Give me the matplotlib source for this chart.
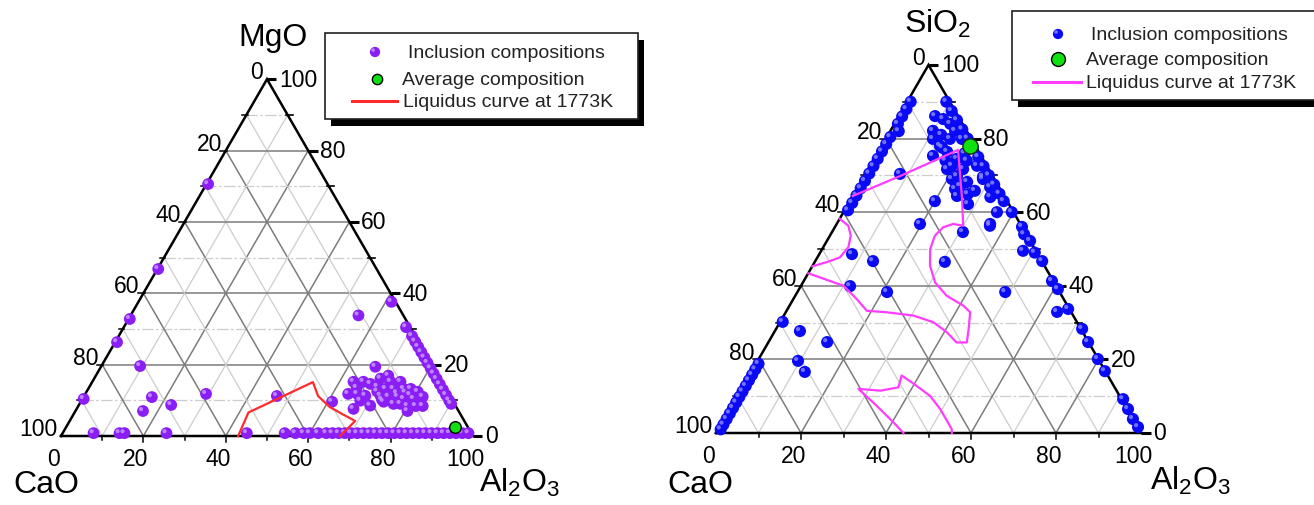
"""Two ternary diagrams: CaO-MgO-Al2O3 and CaO-SiO2-Al2O3 inclusions with liquidus at 1773K."""
import numpy as np
import matplotlib.pyplot as plt
from matplotlib.patches import Rectangle
from matplotlib.transforms import ScaledTranslation

plt.rcParams['font.family'] = ['Liberation Sans', 'DejaVu Sans']
plt.rcParams['mathtext.fontset'] = 'custom'
plt.rcParams['mathtext.rm'] = 'Liberation Sans'
plt.rcParams['mathtext.it'] = 'Liberation Sans:italic'

W, H = 1314, 506
SQ = np.sqrt(3) / 2

# ---- left diagram: (Al2O3, MgO) wt%, CaO = remainder ----
L_INC_AL2O3 = [
    0.4, 0.2, 0.3, 0.45, 0.3,
    9.4, 16.6, 16.4, 22.4, 29.3, 46.8, 55.3,
    66.6, 63.4, 65.8, 67.8, 69.5, 71.0, 72.4, 74.8, 69.9, 72.2, 74.1, 76.6,
    78.3, 80.4, 63.8, 66.0, 68.2, 71.9, 74.0, 76.2, 78.0, 80.4, 82.3, 67.7,
    73.5, 76.2, 77.9, 79.9, 81.9, 83.6, 61.0, 67.2, 80.6, 70.5, 75.5, 72.8,
    77.5, 79.0, 65.0, 70.8,
    61.4, 68.5, 71.2, 72.7, 74.2, 75.7, 77.2, 78.7, 80.2, 81.7, 83.2, 84.7,
    86.2, 87.7, 89.2, 90.2,
    7.5, 13.8, 15.0, 25.2, 44.7, 53.9, 56.5, 58.5, 60.0, 62.0, 64.0, 65.5,
    67.0, 68.5, 70.0, 71.5, 73.0, 74.5, 76.0, 77.5, 79.0, 80.5, 82.0, 83.5,
    85.0, 86.5, 88.0, 89.5, 91.0, 92.5, 94.0, 95.5, 97.0, 98.5,
]
L_INC_MGO = [
    70.6, 46.8, 32.8, 26.3, 10.4,
    19.6, 10.9, 7.0, 8.7, 11.8, 11.2, 33.8,
    19.4, 15.2, 15.2, 14.6, 16.1, 16.9, 15.2, 15.2, 13.8, 13.2, 13.2, 13.2,
    13.2, 12.4, 11.8, 11.8, 11.3, 11.3, 11.0, 11.0, 10.4, 10.4, 11.0, 9.9,
    9.6, 9.0, 9.0, 8.4, 8.4, 8.4, 9.6, 7.6, 7.0, 12.5, 12.0, 10.2,
    12.2, 11.5, 13.5, 8.5,
    37.6, 30.5, 28.0, 26.5, 25.0, 23.5, 22.0, 20.5, 19.0, 17.5, 16.0, 14.5,
    13.0, 11.5, 10.0, 9.0,
    0.8, 0.8, 0.8, 0.8, 0.8, 0.8, 0.8, 0.8, 0.8, 0.8, 0.8, 0.8,
    0.8, 0.8, 0.8, 0.8, 0.8, 0.8, 0.8, 0.8, 0.8, 0.8, 0.8, 0.8,
    0.8, 0.8, 0.8, 0.8, 0.8, 0.8, 0.8, 0.8, 0.8, 0.8,
]
L_AVG_AL2O3, L_AVG_MGO = 94.5, 2.5
L_LIQ_AL2O3 = [43.0, 42.2, 53.6, 56.8, 61.2, 65.1, 69.3, 67.7]
L_LIQ_MGO = [0.0, 6.6, 15.1, 11.2, 8.1, 6.2, 4.2, 0.0]

# ---- right diagram: (Al2O3, SiO2) wt%, CaO = remainder ----
R_INC_AL2O3 = [
    0.8, 0.8, 0.8, 0.8, 2.0, 0.8, 0.8, 0.8, 0.8, 0.8, 0.8, 0.8, 0.8, 0.8,
    0.8, 0.8,
    0.6, 0.6, 0.6, 0.6, 0.6, 0.6, 0.6, 0.6, 0.6, 0.6, 0.6, 0.6, 0.6, 0.6,
    8.5, 10.8, 13.1, 15.2, 17.9, 10.0, 11.1, 13.4, 13.7, 16.2, 19.2, 21.8,
    8.1, 20.0, 19.6, 24.5, 26.8, 28.2, 30.8, 25.1, 28.0, 31.1, 36.1, 36.1,
    15.1, 19.4, 22.3, 25.0, 23.9, 28.0, 18.5, 21.0, 23.1, 12.5, 14.5, 17.0,
    20.5, 22.0,
    9.2, 11.7, 14.2, 16.7, 19.2, 21.7, 24.2, 26.7, 29.2, 31.7, 34.2, 36.2,
    28.3, 32.5, 39.6, 36.3, 44.0, 45.5, 47.5, 47.8, 50.5, 53.4, 58.4, 60.9,
    48.9, 63.8, 66.0, 72.0, 75.2, 79.8, 83.1, 91.2, 93.7, 96.2, 98.5,
    30.6, 7.7, 13.6, 11.6, 21.1, 5.9, 13.8, 9.5, 12.6,
]
R_INC_SIO2 = [
    90.0, 88.0, 86.0, 84.0, 82.0, 80.4, 78.5, 76.5, 74.5, 72.5, 70.5, 68.5,
    66.5, 64.5, 62.5, 60.5,
    30.2, 18.8, 17.3, 15.8, 14.3, 12.8, 11.3, 9.8, 8.3, 6.8, 5.3, 3.8, 2.3, 1.0,
    86.1, 85.3, 84.0, 82.1, 79.9, 82.1, 79.9, 75.3, 78.0, 76.4, 72.6, 69.8,
    70.4, 63.0, 56.8, 64.4, 64.9, 62.2, 54.6, 72.6, 69.6, 66.8, 60.0, 56.8,
    79.9, 74.5, 71.7, 68.2, 67.1, 65.8, 71.7, 69.0, 66.3, 81.0, 77.5, 74.0,
    76.0, 74.0,
    90.0, 87.5, 85.0, 82.5, 80.0, 77.5, 75.0, 72.5, 70.0, 67.5, 65.0, 63.0,
    69.0, 64.1, 60.0, 56.3, 56.0, 54.0, 49.5, 52.2, 49.0, 46.7, 41.3, 39.1,
    38.3, 32.9, 33.7, 28.3, 24.7, 20.1, 16.8, 9.2, 6.5, 3.8, 1.6,
    46.5, 48.6, 46.7, 39.9, 38.3, 27.7, 24.7, 19.6, 16.6,
]
R_AVG_AL2O3, R_AVG_SIO2 = 20.8, 78.0
R_LIQ_A_AL2O3 = [0.0, 8.4, 18.5, 26.1, 30.0, 27.4, 25.5, 24.7, 25.4, 27.6, 31.1,
                 35.6, 40.9, 43.4, 45.5, 46.7, 44.3, 40.6, 36.1, 30.5, 23.8,
                 18.9, 14.9, 10.0, 0.0]
R_LIQ_A_SIO2 = [64.4, 69.8, 76.9, 63.6, 56.3, 56.8, 55.9, 53.6, 50.0, 45.5, 40.9,
                37.3, 34.6, 32.8, 27.8, 24.6, 24.6, 27.4, 30.1, 31.9, 32.8,
                33.2, 36.4, 40.0, 43.4]
R_LIQ_B_AL2O3 = [0.0, 3.0, 4.9, 5.9, 5.3, 2.8, 0.0]
R_LIQ_B_SIO2 = [58.2, 56.3, 53.6, 50.5, 47.7, 46.4, 45.3]
R_LIQ_C_AL2O3 = [44.1, 40.3, 34.1, 27.5, 32.9, 36.7, 35.9, 39.1, 45.3, 49.5, 54.9, 55.5]
R_LIQ_C_SIO2 = [0.0, 2.9, 7.4, 12.0, 11.5, 12.4, 15.6, 13.8, 10.1, 6.5, 1.1, 0.0]

TICKS = [0, 20, 40, 60, 80, 100]
PURPLE, PURPLE_HI = "#8a1ef5", "#c9a0ff"
BLUE, BLUE_HI = "#0a0af5", "#8c8cff"
GREEN = "#10e010"


def txy(al, top):
    al = np.asarray(al, float)
    top = np.asarray(top, float)
    return al + top / 2, top * SQ


def spheres(ax, x, y, color, hi, s, z=4):
    ax.scatter(x, y, s=s, color=color, edgecolors='none', zorder=z, clip_on=False)
    off = ax.transData + ScaledTranslation(-1.4 / 72, 1.4 / 72, ax.figure.dpi_scale_trans)
    ax.scatter(x, y, s=s * 0.12, color=hi, edgecolors='none', alpha=0.8,
               zorder=z + 0.1, transform=off, clip_on=False)


def frame(ax):
    for v in range(10, 100, 10):
        major = v % 20 == 0
        c = "#7c7c7c" if major else "#cdcdcd"
        lw = 1.1 if major else 0.9
        # constant top component (horizontal)
        ax.plot([v / 2, 100 - v / 2], [v * SQ, v * SQ], color=c, lw=lw, zorder=1,
                ls='-' if major else (0, (9, 2, 2, 2)))
        # constant Al2O3
        ax.plot([v, v + (100 - v) / 2], [0, (100 - v) * SQ], color=c, lw=lw, zorder=1)
        # constant CaO
        ax.plot([100 - v, (100 - v) / 2], [0, (100 - v) * SQ], color=c, lw=lw, zorder=1)
    ax.plot([0, 100, 50, 0], [0, 0, 100 * SQ, 0], color='black', lw=1.8, zorder=3,
            solid_joinstyle='miter')
    for v in range(0, 101, 10):
        major = v % 20 == 0
        # right axis ticks (top component)
        xr, yr = 100 - v / 2, v * SQ
        if major:
            ax.plot([xr, xr + 2.3], [yr, yr], color='black', lw=2.2, zorder=3,
                    solid_capstyle='butt')
        else:
            ax.plot([xr - 0.5, xr + 1.2], [yr, yr], color='black', lw=1.2, zorder=3)
        # left axis ticks (CaO)
        xl, yl = (100 - v) / 2, (100 - v) * SQ
        if 0 < v < 100:
            ax.plot([xl - (1.3 if major else 1.0), xl + 0.3], [yl, yl],
                    color='black', lw=1.1, zorder=3)
        # bottom ticks (Al2O3)
        if 0 < v < 100:
            ax.plot([v, v], [0, -(1.4 if major else 1.0)], color='black', lw=1.1, zorder=3)
    for v in TICKS:
        ax.text(v - 1.8, -2.7, str(v), ha='center', va='top', fontsize=16.5)
        ax.text(100 - v / 2 + 2.9, v * SQ, str(v), ha='left', va='center', fontsize=16.5)
        ax.text((100 - v) / 2 - 0.9, (100 - v) * SQ + 0.2, str(v), ha='right',
                va='baseline', fontsize=16.5)


def panel(fig, left_px, right_px, ox, oy, s):
    ax = fig.add_axes([left_px / W, 0, (right_px - left_px) / W, 1])
    ax.set_xlim((left_px - ox) / s, (right_px - ox) / s)
    ax.set_ylim((oy - H) / s, oy / s)
    ax.axis('off')
    return ax


def legend_box(lax, x0, y0, x1, y1, entries, marker_color, marker_hi, line_color):
    lax.add_patch(Rectangle((x0 + 6, y0 + 7), x1 - x0, y1 - y0, facecolor='black',
                            edgecolor='none', zorder=10, clip_on=False))
    lax.add_patch(Rectangle((x0, y0), x1 - x0, y1 - y0, facecolor='white',
                            edgecolor='#202020', lw=1.2, zorder=11, clip_on=False))
    (mx1, my1, tx1, t1), (mx2, my2, tx2, t2, gs), (lx0, lx1, ly, tx3, t3) = entries
    spheres(lax, [mx1], [my1], marker_color, marker_hi, 55, z=12)
    lax.scatter([mx2], [my2], s=gs, color=GREEN, edgecolors='black', linewidths=1.0,
                zorder=12, clip_on=False)
    lax.plot([lx0, lx1], [ly, ly], color=line_color, lw=2.2, zorder=12)
    for tx, ty, t in [(tx1, my1, t1), (tx2, my2, t2), (tx3, ly, t3)]:
        lax.text(tx, ty, t, ha='left', va='center', fontsize=14, color='#222222',
                 zorder=13)


def main():
    fig = plt.figure(figsize=(W / 100, H / 100), dpi=100)

    # ---- left: CaO-MgO-Al2O3 ----
    ax1 = panel(fig, 0, 657, 61, 437, 4.12)
    frame(ax1)
    x, y = txy(L_INC_AL2O3, L_INC_MGO)
    spheres(ax1, x, y, PURPLE, PURPLE_HI, 72)
    x, y = txy(L_LIQ_AL2O3, L_LIQ_MGO)
    ax1.plot(x, y, color='#ff2a2a', lw=1.6, zorder=6)
    x, y = txy([L_AVG_AL2O3], [L_AVG_MGO])
    ax1.scatter(x, y, s=70, color=GREEN, edgecolors='black', linewidths=1.0, zorder=7)

    # ---- right: CaO-SiO2-Al2O3 ----
    ax2 = panel(fig, 657, 1314, 716, 434, 4.25)
    frame(ax2)
    x, y = txy(R_INC_AL2O3, R_INC_SIO2)
    spheres(ax2, x, y, BLUE, BLUE_HI, 76)
    for al, si in [(R_LIQ_A_AL2O3, R_LIQ_A_SIO2), (R_LIQ_B_AL2O3, R_LIQ_B_SIO2),
                   (R_LIQ_C_AL2O3, R_LIQ_C_SIO2)]:
        x, y = txy(al, si)
        ax2.plot(x, y, color='#ff3cff', lw=1.6, zorder=6)
    x, y = txy([R_AVG_AL2O3], [R_AVG_SIO2])
    ax2.scatter(x, y, s=120, color=GREEN, edgecolors='#103010', linewidths=1.0, zorder=7)

    # ---- overlay in pixel coordinates: component names and legends ----
    lax = fig.add_axes([0, 0, 1, 1], facecolor='none')
    lax.set_xlim(0, W)
    lax.set_ylim(H, 0)
    lax.axis('off')

    lax.text(273, 38, "MgO", ha='center', va='center', fontsize=23)
    lax.text(46, 485, "CaO", ha='center', va='center', fontsize=23)
    lax.text(479, 492, r"Al$_2$O$_3$", ha='left', va='baseline', fontsize=23)
    lax.text(904, 33, r"SiO$_2$", ha='left', va='baseline', fontsize=23)
    lax.text(700, 485, "CaO", ha='center', va='center', fontsize=23)
    lax.text(1150, 490, r"Al$_2$O$_3$", ha='left', va='baseline', fontsize=23)

    legend_box(lax, 325, 34, 638, 120,
               [(375, 53, 408, "Inclusion compositions"),
                (377, 80, 402, "Average composition", 55),
                (352, 397, 102, 403, "Liquidus curve at 1773K")],
               PURPLE, PURPLE_HI, '#ff2a2a')
    legend_box(lax, 1012, 12, 1318, 101,
               [(1058, 35, 1091, "Inclusion compositions"),
                (1058, 60, 1086, "Average composition", 100),
                (1033, 1081, 83, 1086, "Liquidus curve at 1773K")],
               BLUE, BLUE_HI, '#ff3cff')

    fig.savefig("out.png", dpi=100)


if __name__ == "__main__":
    main()
